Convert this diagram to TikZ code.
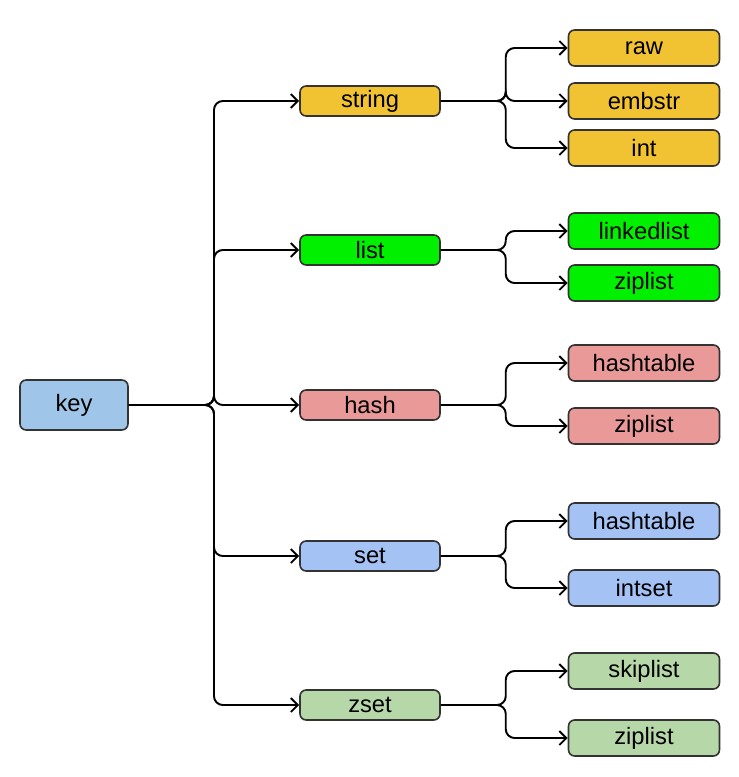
\documentclass[tikz,border=0pt]{standalone}
\usepackage{fontspec}
\setmainfont{Liberation Sans}
\usetikzlibrary{arrows.meta}

\definecolor{keycol}{HTML}{9FC5E8}
\definecolor{strcol}{HTML}{F1C232}
\definecolor{listcol}{HTML}{00F000}
\definecolor{hashcol}{HTML}{EA9999}
\definecolor{setcol}{HTML}{A4C2F4}
\definecolor{zsetcol}{HTML}{B6D7A8}
\definecolor{boxline}{HTML}{333333}

\begin{document}
\begin{tikzpicture}[x=0.02cm,y=-0.02cm,
		box/.style={draw=boxline, line width=0.9pt, rounded corners=3.5pt, inner sep=0pt,
			font=\fontsize{13.5}{15}\selectfont},
		kind/.style={box, minimum width=2.8cm, minimum height=0.6cm},
		enc/.style={box, minimum width=3.02cm, minimum height=0.72cm},
		link/.style={-{Straight Barb[length=4pt,width=8pt]}, line width=1.1pt, rounded corners=5pt}]
	\useasboundingbox (0,0) rectangle (739,777);
	% key
	\node[box, fill=keycol, minimum width=2.16cm, minimum height=1cm] (key) at (74,405) {key};
	% types
	\node[kind, fill=strcol]  (string) at (370,101) {string};
	\node[kind, fill=listcol] (list)   at (370,250) {list};
	\node[kind, fill=hashcol] (hash)   at (370,405) {hash};
	\node[kind, fill=setcol]  (set)    at (370,556) {set};
	\node[kind, fill=zsetcol] (zset)   at (370,705) {zset};
	% encodings
	\node[enc, fill=strcol]  (raw)      at (644,48)  {raw};
	\node[enc, fill=strcol]  (embstr)   at (644,101) {embstr};
	\node[enc, fill=strcol]  (int)      at (644,148) {int};
	\node[enc, fill=listcol] (linked)   at (644,231) {linkedlist};
	\node[enc, fill=listcol] (listzip)  at (644,283) {ziplist};
	\node[enc, fill=hashcol] (hashtab)  at (644,363) {hashtable};
	\node[enc, fill=hashcol] (hashzip)  at (644,426) {ziplist};
	\node[enc, fill=setcol]  (settab)   at (644,521) {hashtable};
	\node[enc, fill=setcol]  (intset)   at (644,588) {intset};
	\node[enc, fill=zsetcol] (skip)     at (644,671) {skiplist};
	\node[enc, fill=zsetcol] (zsetzip)  at (644,738) {ziplist};
	% forks
	\coordinate (keyfork) at (214,405);
	\foreach \t in {string,list,hash,set,zset}
		\coordinate (\t fork) at ([xshift=1.3cm]\t.east);
	% key to types
	\foreach \t in {string,list,hash,set,zset}
		\draw[link] (key.east) -- (keyfork) |- (\t.west);
	% types to encodings
	\foreach \p/\c in {string/raw,string/embstr,string/int,list/linked,list/listzip,
		hash/hashtab,hash/hashzip,set/settab,set/intset,zset/skip,zset/zsetzip}
		\draw[link] (\p.east) -- (\p fork) |- (\c.west);
\end{tikzpicture}
\end{document}
